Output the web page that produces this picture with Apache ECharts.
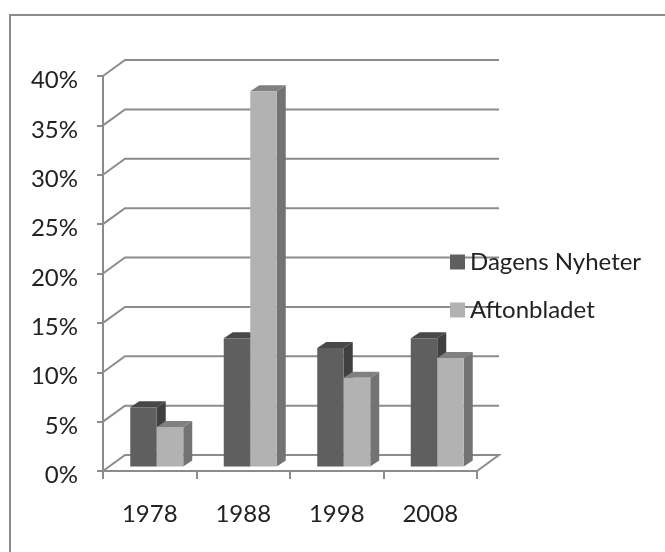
<!DOCTYPE html>
<html><head><meta charset="utf-8">
<style>html,body{margin:0;padding:0;background:#fff}#c{width:665px;height:552px}</style>
<script src="https://cdn.jsdelivr.net/npm/echarts@6/dist/echarts.min.js"></script>
</head><body><div id="c"></div>
<script>
const categories = ['1978','1988','1998','2008'];
const dagensNyheter = [6,13,12,13];
const aftonbladet = [4,38,9,11];
const gridTicks = [0,5,10,15,20,25,30,35,40];
const chart = echarts.init(document.getElementById('c'),null,{renderer:'canvas'});
const DX=22,DY=-16,LINE='#8c8c8c';
function wall(params,api){
  const v=api.value(0), y=api.coord([0,v])[1];
  const xl=params.coordSys.x, xr=xl+params.coordSys.width;
  const pts=[[xl,y],[xl+DX,y+DY],[xr+DX,y+DY]];
  if(v===0) pts.push([xr,y]);
  return {type:'polyline',shape:{points:pts},style:{stroke:LINE,lineWidth:2,fill:null}};
}
function bar(front,top,side,shift){
  return function(params,api){
    const c=api.coord([api.value(0),api.value(1)]), b=api.coord([api.value(0),0]);
    const W=26.5,dx=9,dy=6,base=-4.5;
    const x0=c[0]+7+shift*W-W, x1=x0+W, yt=c[1]+base, yb=b[1]+base;
    return {type:'group',children:[
      {type:'polygon',shape:{points:[[x1,yt],[x1+dx,yt-dy],[x1+dx,yb-dy],[x1,yb]]},style:{fill:side}},
      {type:'polygon',shape:{points:[[x0,yt],[x0+dx,yt-dy],[x1+dx,yt-dy],[x1,yt]]},style:{fill:top}},
      {type:'rect',shape:{x:x0,y:yt,width:W,height:yb-yt},style:{fill:front}}
    ]};
  };
}
chart.setOption({
  animation:false,
  backgroundColor:'#fff',
  textStyle:{fontFamily:'Lato'},
  graphic:[{type:'polyline',shape:{points:[[10,560],[10,15],[670,15]]},style:{fill:null,stroke:'#8c8c8c',lineWidth:2},z:-1}],
  grid:{left:103,right:188,top:76,bottom:81},
  legend:{orient:'vertical',left:450,top:250,itemWidth:15,itemHeight:15,itemGap:24,icon:'rect',
    data:['Dagens Nyheter','Aftonbladet'],
    textStyle:{fontFamily:'Lato',fontSize:24,color:'#222'},padding:0},
  xAxis:{type:'category',data:categories,boundaryGap:true,
    axisLine:{lineStyle:{color:LINE,width:2}},
    axisTick:{show:true,length:8,lineStyle:{color:LINE,width:2}},
    axisLabel:{color:'#222',fontSize:24,margin:31}},
  yAxis:{type:'value',min:0,max:40,interval:5,
    axisLine:{show:true,lineStyle:{color:LINE,width:2}},
    axisTick:{show:true,length:6,lineStyle:{color:LINE,width:2}},
    splitLine:{show:false},
    axisLabel:{margin:25,hideOverlap:false,formatter:'{a|{value}%}',
      rich:{a:{color:'#222',fontFamily:'Lato',fontSize:24,lineHeight:24,padding:[9,0,0,0]}}}},
  series:[
    {type:'custom',name:'wall',silent:true,data:gridTicks.map(v=>[v]),encode:{y:0},renderItem:wall,z:1,clip:false},
    {type:'custom',name:'Dagens Nyheter',itemStyle:{color:'#5f5f5f'},data:dagensNyheter.map((v,i)=>[i,v]),encode:{x:0,y:1},renderItem:bar('#5f5f5f','#484848','#404040',0),z:2,clip:false},
    {type:'custom',name:'Aftonbladet',itemStyle:{color:'#b2b2b2'},data:aftonbladet.map((v,i)=>[i,v]),encode:{x:0,y:1},renderItem:bar('#b2b2b2','#808080','#737373',1),z:3,clip:false}
  ]
});
</script></body></html>
